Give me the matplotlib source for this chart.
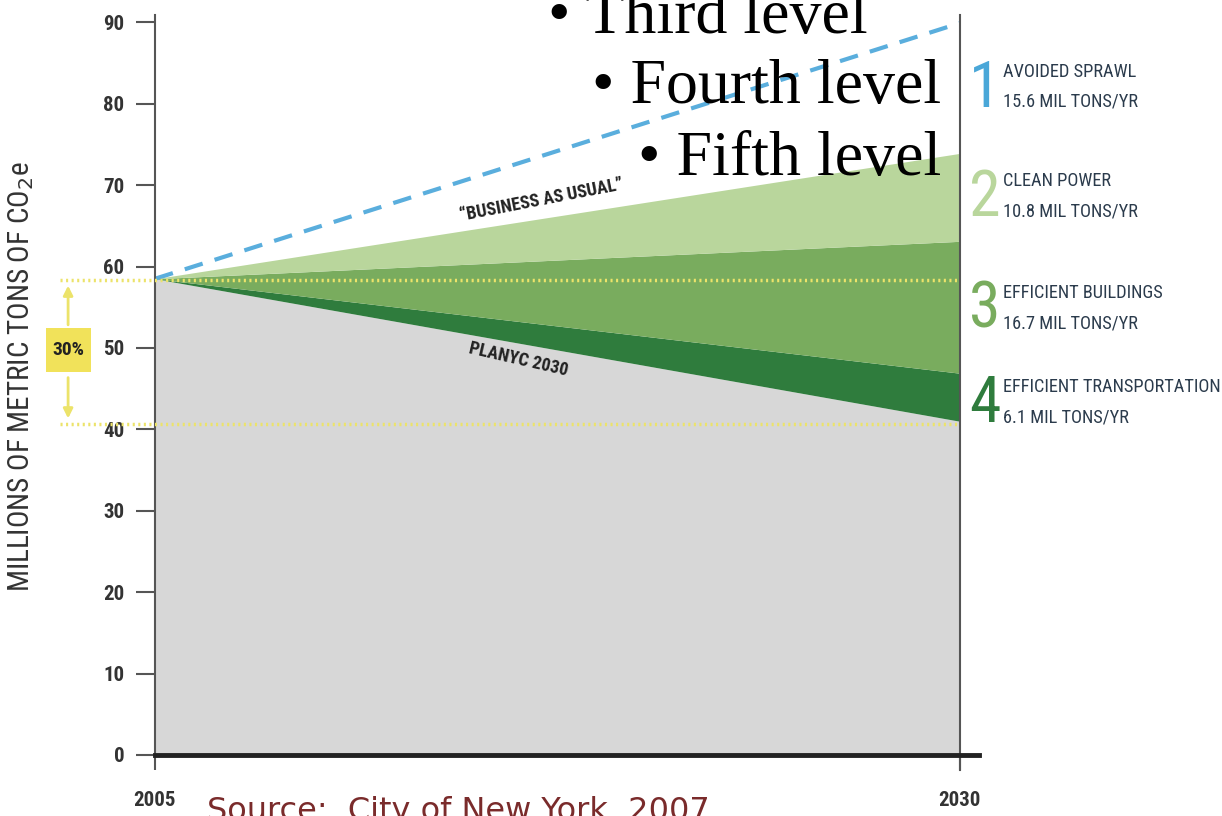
import matplotlib
matplotlib.use("Agg")
import matplotlib.pyplot as plt
from matplotlib.patches import Rectangle

# ---- data ----
years = [2005, 2030]
bau = [58.5, 89.9]            # "Business as usual"
after_sprawl = [58.5, 73.9]   # top of clean power wedge
after_power = [58.5, 63.1]    # top of efficient buildings wedge
after_build = [58.5, 46.9]    # top of efficient transportation wedge
planyc = [58.5, 41.0]         # PlaNYC 2030 path
yticks = [0, 10, 20, 30, 40, 50, 60, 70, 80, 90]
xticks = [2005, 2030]
ref_levels = [58.3, 40.7]
legend_nums = ["1", "2", "3", "4"]
legend_names = ["AVOIDED SPRAWL", "CLEAN POWER", "EFFICIENT BUILDINGS", "EFFICIENT TRANSPORTATION"]
legend_vals = ["15.6 MIL TONS/YR", "10.8 MIL TONS/YR", "16.7 MIL TONS/YR", "6.1 MIL TONS/YR"]

NARROW = ["Roboto Condensed", "DejaVu Sans Condensed", "DejaVu Sans"]
SERIF = ["Liberation Serif", "DejaVu Serif"]
COND = dict(family=NARROW, fontstretch="condensed")

W, H = 1222, 816
fig = plt.figure(figsize=(W / 100, H / 100), dpi=100)
ax = fig.add_axes([155 / W, (H - 755) / H, (979 - 155) / W, 740 / H])
ax.set_xlim(2005, 2030.6)
ax.set_ylim(0, 90.9)

c_grey = "#d7d7d7"
c_dark = "#2f7c3d"
c_med = "#79ac5e"
c_light = "#b9d69c"
c_blue = "#5aaedd"

ax.fill_between(years, 0, planyc, color=c_grey, lw=0)
ax.fill_between(years, planyc, after_build, color=c_dark, lw=0)
ax.fill_between(years, after_build, after_power, color=c_med, lw=0)
ax.fill_between(years, after_power, after_sprawl, color=c_light, lw=0)
ax.plot(years, bau, color=c_blue, lw=3, ls=(0, (4.5, 3)), dash_capstyle="butt")

for lv in ref_levels:
    ax.plot([2002.05, 2030], [lv, lv], color="#ece36a", lw=2.5, ls=(0, (0.6, 1.0)),
            clip_on=False, zorder=3)

ax.annotate("", xy=(2002.3, ref_levels[0] - 0.3), xytext=(2002.3, 52.5),
            arrowprops=dict(arrowstyle="-|>", color="#ece36a", lw=2, mutation_scale=14),
            annotation_clip=False)
ax.annotate("", xy=(2002.3, ref_levels[1] + 0.3), xytext=(2002.3, 46.7),
            arrowprops=dict(arrowstyle="-|>", color="#ece36a", lw=2, mutation_scale=14),
            annotation_clip=False)
ax.add_patch(Rectangle((2001.6, 47.1), 1.4, 5.3, facecolor="#f1e25a", edgecolor="none",
                       clip_on=False, zorder=4))
ax.text(2002.3, 49.7, "30%", ha="center", va="center", fontsize=14, fontweight="bold",
        color="#222222", zorder=5, **COND)

ax.plot([2030, 2030], [-1.9, 90.9], color="#555555", lw=1.5, clip_on=False, zorder=5)
ax.plot([2005, 2030.6], [0, 0], color="#222222", lw=3.5, clip_on=False, zorder=5)

ax.text(2017.0, 68.2, "\u201cBUSINESS AS USUAL\u201d", rotation=11, ha="center", va="center",
        fontsize=13, fontweight="bold", color="#222222", **COND)
ax.text(2016.3, 48.6, "PLANYC 2030", rotation=-13, ha="center", va="center",
        fontsize=13, fontweight="bold", color="#222222", **COND)

for s in ["top", "right", "bottom"]:
    ax.spines[s].set_visible(False)
ax.spines["left"].set_color("#555555")
ax.spines["left"].set_linewidth(1.5)
ax.set_yticks(yticks)
ax.set_xticks(xticks)
ax.tick_params(axis="y", length=14, width=1.5, color="#555555", pad=8,
               labelsize=15, labelcolor="#333333")
ax.tick_params(axis="x", length=11, width=1.5, color="#555555", pad=15,
               labelsize=15, labelcolor="#333333")
for lab in ax.get_yticklabels() + ax.get_xticklabels():
    lab.set_fontweight("bold")
    lab.set_family(NARROW)
    lab.set_fontstretch("condensed")
ax.set_ylabel("MILLIONS OF METRIC TONS OF CO$_2$e", fontsize=21, color="#333333", **COND)
ax.yaxis.set_label_coords(-0.145, 0.511)

num_colors = ["#4aa7d8", "#b9d69c", "#79ac5e", "#2f7c3d"]
centers = [87, 196, 308, 402]
for n, nm, v, c, cy in zip(legend_nums, legend_names, legend_vals, num_colors, centers):
    fig.text(985 / W, (H - cy - 2) / H, n, fontsize=46, color=c, ha="center", va="center",
             **COND)
    fig.text(1003 / W, (H - cy + 15) / H, nm, fontsize=13.2, color="#2b3b4c", ha="left",
             va="center", **COND)
    fig.text(1003 / W, (H - cy - 15) / H, v, fontsize=13.2, color="#2b3b4c", ha="left",
             va="center", **COND)

fig.text(548 / W, (H - 33) / H, "\u2022 Third level", fontsize=46, family=SERIF,
         color="black", ha="left", va="baseline")
fig.text(592 / W, (H - 103) / H, "\u2022 Fourth level", fontsize=46, family=SERIF,
         color="black", ha="left", va="baseline")
fig.text(638 / W, (H - 175) / H, "\u2022 Fifth level", fontsize=46, family=SERIF,
         color="black", ha="left", va="baseline")

fig.text(207 / W, (H - 820) / H, "Source:  City of New York, 2007", fontsize=23,
         color="#7a2b2b", ha="left", va="baseline", family=["DejaVu Sans"])

fig.savefig("out.png", dpi=100)
